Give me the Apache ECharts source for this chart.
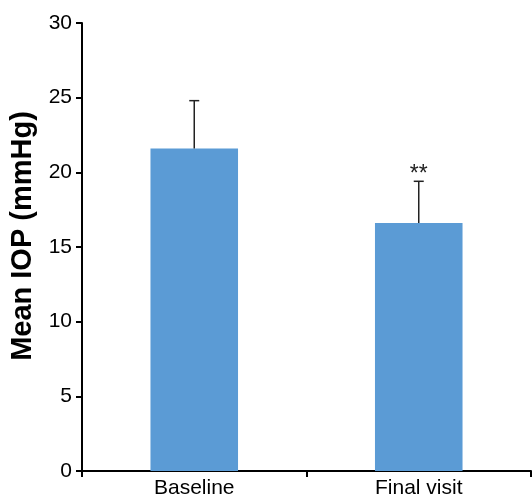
<!DOCTYPE html>
<html>
<head>
<meta charset="utf-8">
<script src="https://cdn.jsdelivr.net/npm/echarts@6/dist/echarts.min.js"></script>
<style>html,body{margin:0;padding:0;background:#fff}#c{width:532px;height:500px}</style>
</head>
<body>
<div id="c"></div>
<script>
const categories = ['Baseline', 'Final visit'];
const meanIOP = [21.6, 16.6];
const errUpper = [24.8, 19.4];
const significance = ['', '**'];
const yTicks = [0, 5, 10, 15, 20, 25, 30];

const chart = echarts.init(document.getElementById('c'), null, {renderer: 'canvas'});
const font = '"Liberation Sans", Arial, sans-serif';
chart.setOption({
  animation: false,
  grid: {left: 82, right: 1, top: 23, bottom: 29, containLabel: false, outerBoundsMode: 'none'},
  xAxis: {
    type: 'category',
    data: categories,
    axisLine: {lineStyle: {color: '#000', width: 2}},
    axisTick: {show: true, length: 6, lineStyle: {color: '#000', width: 2}, alignWithLabel: false},
    axisLabel: {color: '#000', fontSize: 21, fontFamily: font, margin: 7}
  },
  yAxis: {
    type: 'value',
    min: yTicks[0], max: yTicks[yTicks.length - 1], interval: 5,
    name: 'Mean IOP (mmHg)',
    nameLocation: 'middle',
    nameGap: 45,
    nameTextStyle: {color: '#000', fontSize: 29, fontWeight: 'bold', fontFamily: font, padding: [0, 0, 0, 22]},
    axisLine: {show: true, lineStyle: {color: '#000', width: 2}},
    axisTick: {show: true, length: 6, lineStyle: {color: '#000', width: 2}},
    axisLabel: {color: '#000', fontSize: 21, fontFamily: font, margin: 10},
    splitLine: {show: false}
  },
  series: [
    {
      type: 'bar',
      data: meanIOP,
      barWidth: '39%',
      itemStyle: {color: '#5b9bd5'},
      z: 2
    },
    {
      type: 'custom',
      z: 3,
      data: categories.map((c, i) => [i, meanIOP[i], errUpper[i]]),
      renderItem: function (params, api) {
        const x = api.coord([api.value(0), api.value(1)])[0];
        const yLow = api.coord([api.value(0), api.value(1)])[1];
        const yHigh = api.coord([api.value(0), api.value(2)])[1];
        const children = [
          {type: 'line', shape: {x1: x, y1: yLow, x2: x, y2: yHigh}, style: {stroke: '#222', lineWidth: 1.5}},
          {type: 'line', shape: {x1: x - 5, y1: yHigh, x2: x + 5, y2: yHigh}, style: {stroke: '#222', lineWidth: 1.5}}
        ];
        const s = significance[params.dataIndex];
        if (s) {
          children.push({type: 'text', style: {text: s, x: x, y: yHigh - 18, textAlign: 'center', textVerticalAlign: 'top', fontSize: 23, fontFamily: font, fill: '#222'}});
        }
        return {type: 'group', children: children};
      }
    }
  ]
});
</script>
</body>
</html>
